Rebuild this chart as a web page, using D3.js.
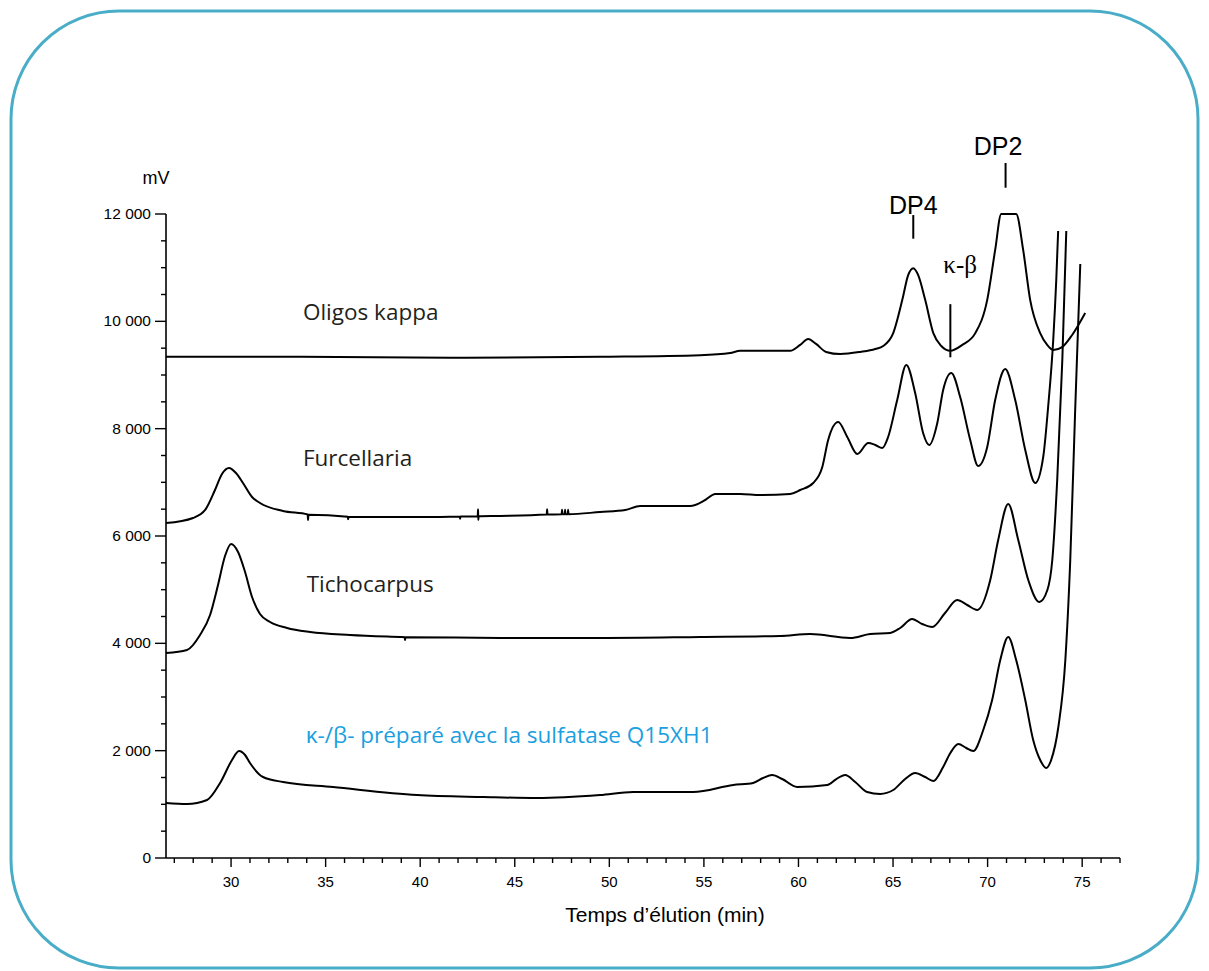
<!DOCTYPE html>
<html><head><meta charset="utf-8">
<script src="https://cdn.jsdelivr.net/npm/d3@7"></script>
<style>html,body{margin:0;padding:0;background:#fff;}svg{display:block;}</style>
</head><body>
<script>
// ---- data (time in min, signal in mV) ----
const oligosKappa = [[26.56,9340],[33.65,9340],[41.58,9320],[49.51,9340],[54.80,9370],[56.39,9410],[56.92,9450],[59.56,9450],[60.09,9560],[60.51,9670],[60.93,9580],[61.46,9430],[62.21,9390],[63.26,9430],[64.06,9485],[64.48,9540],[65.01,9780],[65.49,10400],[65.80,10860],[66.07,10990],[66.33,10860],[66.70,10400],[67.13,9780],[67.55,9540],[68.03,9450],[68.66,9560],[69.35,9780],[69.98,10400],[70.40,11330],[70.72,12000],[71.51,12000],[71.88,11330],[72.25,10400],[72.78,9780],[73.15,9560],[73.47,9466],[73.94,9520],[74.47,9746],[75.16,10156]];
const furcellaria = [[26.56,6240],[27.99,6336],[28.63,6485],[29.15,6857],[29.52,7155],[29.89,7267],[30.26,7174],[30.63,6988],[31.11,6727],[31.53,6615],[32.75,6466],[34.05,6400],[34.07,6300],[34.09,6395],[36.17,6360],[36.19,6310],[36.21,6354],[41.05,6354],[42.09,6360],[42.11,6320],[42.13,6362],[43.04,6365],[43.06,6500],[43.07,6300],[43.09,6366],[44.23,6373],[46.69,6400],[46.71,6500],[46.73,6400],[47.48,6405],[47.50,6490],[47.52,6405],[47.64,6405],[47.66,6490],[47.68,6405],[47.80,6405],[47.82,6490],[47.84,6405],[49.51,6447],[50.84,6485],[51.63,6559],[54.27,6559],[55.07,6671],[55.60,6783],[56.92,6783],[57.98,6764],[59.56,6783],[60.09,6857],[60.78,6988],[61.26,7286],[61.57,7789],[62.10,8124],[62.58,7845],[63.11,7528],[63.69,7733],[64.06,7696],[64.43,7640],[64.74,7845],[65.22,8534],[65.70,9187],[66.17,8665],[66.59,7919],[66.91,7696],[67.34,8106],[67.65,8721],[68.08,9037],[68.55,8590],[69.08,7789],[69.50,7305],[69.98,7659],[70.40,8534],[70.93,9112],[71.46,8534],[71.99,7603],[72.52,6988],[72.94,7472],[73.20,8404],[73.47,9652],[73.63,10770],[73.73,11684]];
const tichocarpus = [[26.56,3820],[27.67,3876],[28.36,4155],[28.89,4528],[29.31,5087],[29.68,5627],[30.00,5851],[30.37,5702],[30.74,5329],[31.11,4863],[31.53,4547],[32.06,4398],[32.96,4286],[34.18,4211],[36.29,4155],[38.94,4118],[39.18,4115],[39.20,4060],[39.22,4115],[44.23,4100],[49.51,4100],[54.80,4118],[59.03,4137],[60.62,4174],[62.74,4100],[63.79,4174],[64.85,4193],[65.38,4286],[66.01,4454],[66.54,4360],[67.07,4304],[67.75,4565],[68.39,4808],[68.92,4714],[69.45,4621],[70.14,5180],[70.56,5926],[71.09,6596],[71.62,5926],[72.15,5180],[72.73,4770],[73.16,4994],[73.42,5553],[73.68,7044],[73.95,9280],[74.16,11684]];
const kbSulfatase = [[26.56,1025],[27.67,1006],[28.73,1081],[29.42,1398],[30.05,1826],[30.42,1994],[30.74,1919],[31.00,1770],[31.69,1509],[32.75,1416],[35.39,1323],[39.84,1174],[43.33,1137],[46.18,1118],[49.51,1174],[51.26,1230],[54.43,1230],[56.55,1360],[57.60,1398],[58.13,1491],[58.61,1547],[59.14,1472],[59.93,1323],[61.52,1360],[62.00,1472],[62.47,1547],[63.00,1416],[63.63,1230],[64.32,1193],[65.01,1267],[65.64,1472],[66.17,1584],[66.70,1509],[67.13,1435],[67.65,1696],[68.03,1957],[68.45,2124],[68.87,2050],[69.24,1994],[69.77,2385],[70.24,2944],[70.67,3690],[71.09,4118],[71.51,3690],[71.99,2944],[72.41,2199],[72.78,1826],[73.10,1677],[73.36,1826],[73.74,2441],[74.11,3690],[74.37,5553],[74.63,8348],[74.90,11069]];

const seriesLabels = [
  {name:"Oligos kappa", t:33.8, v:10030, color:"#231f20"},
  {name:"Furcellaria", t:33.8, v:7300, color:"#231f20"},
  {name:"Tichocarpus", t:34.0, v:4955, color:"#231f20"},
  {name:"κ-/β- préparé avec la sulfatase Q15XH1", t:33.95, v:2145, color:"#1aa0e0"}
];
const peakMarks = [
  {t:66.07, v0:11540, v1:11980},
  {t:70.95, v0:12490, v1:12950},
  {t:68.03, v0:9330, v1:10320}
];
const peakLabels = [
  {label:"DP4", t:66.07, y:214, font:"Liberation Sans, Arial, sans-serif", size:25},
  {label:"DP2", t:70.55, y:155, font:"Liberation Sans, Arial, sans-serif", size:25},
  {label:"κ-β", t:68.55, y:273, font:"Liberation Serif, serif", size:25}
];
const xDomain = [26.56, 77];
const yDomain = [0, 12000];
const xMajor = [30,35,40,45,50,55,60,65,70,75];
const yMajor = [0,2000,4000,6000,8000,10000,12000];

// ---- drawing ----
const W=1209, H=971;
const svg = d3.select("body").append("svg").attr("width",W).attr("height",H);
svg.append("rect").attr("x",11).attr("y",11).attr("width",1187).attr("height",957)
  .attr("rx",108).attr("ry",108).attr("fill","none").attr("stroke","#4aadc8").attr("stroke-width",3);

const x = d3.scaleLinear().domain(xDomain).range([166,1120]);
const y = d3.scaleLinear().domain(yDomain).range([858,214]);

const fmt = v => d3.format(",")(v).replace(/,/g," ");
const sans = "Liberation Sans, Arial, sans-serif";

// y axis
const yAxis = svg.append("g").attr("transform","translate(166,0)");
yAxis.append("line").attr("x1",0).attr("x2",0).attr("y1",y(12000)).attr("y2",y(0)).attr("stroke","#000").attr("stroke-width",1.6);
yAxis.selectAll(".ymin").data(d3.range(0,12001,500)).join("line")
  .attr("x1",d=>yMajor.includes(d)?-11:-5).attr("x2",0).attr("y1",d=>y(d)).attr("y2",d=>y(d))
  .attr("stroke","#000").attr("stroke-width",1.4);
yAxis.selectAll("text").data(yMajor).join("text")
  .attr("x",-15).attr("y",d=>y(d)+5).attr("text-anchor","end")
  .attr("font-family",sans).attr("font-size",15.5).text(fmt);
svg.append("text").attr("x",156).attr("y",184).attr("text-anchor","middle")
  .attr("font-family",sans).attr("font-size",18).text("mV");

// x axis
const xAxis = svg.append("g").attr("transform","translate(0,858)");
xAxis.append("line").attr("x1",x(xDomain[0])).attr("x2",x(xDomain[1])).attr("y1",0).attr("y2",0).attr("stroke","#000").attr("stroke-width",1.6);
xAxis.selectAll(".xmin").data(d3.range(27,78,1)).join("line")
  .attr("x1",d=>x(d)).attr("x2",d=>x(d)).attr("y1",0).attr("y2",d=>xMajor.includes(d)?9:5)
  .attr("stroke","#000").attr("stroke-width",1.4);
xAxis.selectAll("text").data(xMajor).join("text")
  .attr("x",d=>x(d)).attr("y",29).attr("text-anchor","middle")
  .attr("font-family",sans).attr("font-size",15).text(d=>d);
svg.append("text").attr("x",665).attr("y",922).attr("text-anchor","middle")
  .attr("font-family",sans).attr("font-size",21).text("Temps d’élution (min)");

// traces
const line = d3.line().x(d=>x(d[0])).y(d=>y(d[1])).curve(d3.curveMonotoneX);
[oligosKappa, furcellaria, tichocarpus, kbSulfatase].forEach(s=>{
  svg.append("path").datum(s).attr("d",line).attr("fill","none").attr("stroke","#000")
    .attr("stroke-width",2).attr("stroke-linejoin","round");
});

// series labels
svg.selectAll(".slab").data(seriesLabels).join("text")
  .attr("x",d=>x(d.t)).attr("y",d=>y(d.v)).attr("fill",d=>d.color)
  .attr("font-family","Open Sans, Noto Sans, sans-serif").attr("font-size",22.5).text(d=>d.name);

// peak markers
svg.selectAll(".pm").data(peakMarks).join("line")
  .attr("x1",d=>x(d.t)).attr("x2",d=>x(d.t)).attr("y1",d=>y(d.v0)).attr("y2",d=>y(d.v1))
  .attr("stroke","#000").attr("stroke-width",2);
svg.selectAll(".pl").data(peakLabels).join("text")
  .attr("x",d=>x(d.t)).attr("y",d=>d.y).attr("text-anchor","middle")
  .attr("font-family",d=>d.font).attr("font-size",d=>d.size).text(d=>d.label);
</script>
</body></html>
